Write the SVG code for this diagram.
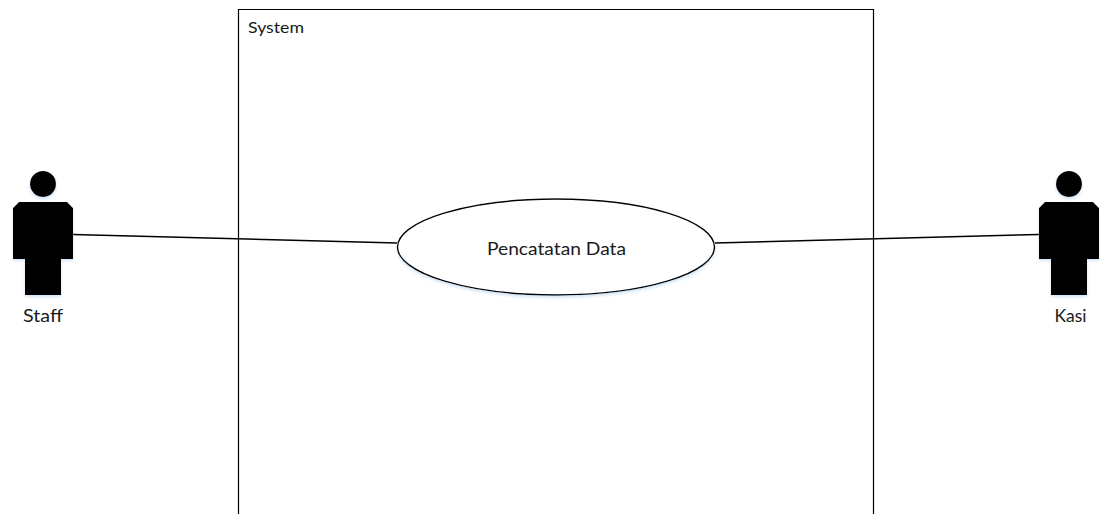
<svg xmlns="http://www.w3.org/2000/svg" width="1100" height="514" viewBox="0 0 1100 514">
<style>
text{font-family:"Lato","Open Sans","Liberation Sans",sans-serif;fill:#1a1a1a;font-size:15px}
.line{stroke:#000;stroke-width:1.5;fill:none}
.sh{filter:url(#s)}
</style>
<defs>
<filter id="s" x="-10%" y="-10%" width="120%" height="125%"><feDropShadow dx="0" dy="2" stdDeviation="1.5" flood-color="#9dc3e6" flood-opacity="0.45"/></filter>
<g id="actor">
<circle cx="43" cy="184" r="13" fill="#000"/>
<path d="M19 202H67L73 208V259H61V295H25V259H13V208Z" fill="#000"/>
</g>
</defs>
<rect width="1100" height="514" fill="#fff"/>
<g id="system">
<path d="M238.500 514V9.500H873.500V514" fill="none" stroke="#000" stroke-width="1.2"/>
<text x="248" y="33" textLength="56" lengthAdjust="spacingAndGlyphs">System</text>
</g>
<g id="connectors">
<path class="line" d="M73 234.500L397 243"/>
<path class="line" d="M715 243L1039 234.500"/>
</g>
<g id="usecase">
<ellipse class="sh" cx="556" cy="247" rx="158.500" ry="48" fill="#fff" stroke="#000" stroke-width="1.4"/>
<text x="556.500" y="255" text-anchor="middle" style="font-size:18px" textLength="139" lengthAdjust="spacingAndGlyphs">Pencatatan Data</text>
</g>
<g id="staff">
<use href="#actor" class="sh"/>
<text x="43" y="322" text-anchor="middle" style="font-size:17px" textLength="40" lengthAdjust="spacingAndGlyphs">Staff</text>
</g>
<g id="kasi">
<use href="#actor" x="1026" class="sh"/>
<text x="1070.500" y="322" text-anchor="middle" style="font-size:17px" textLength="32" lengthAdjust="spacingAndGlyphs">Kasi</text>
</g>
</svg>
